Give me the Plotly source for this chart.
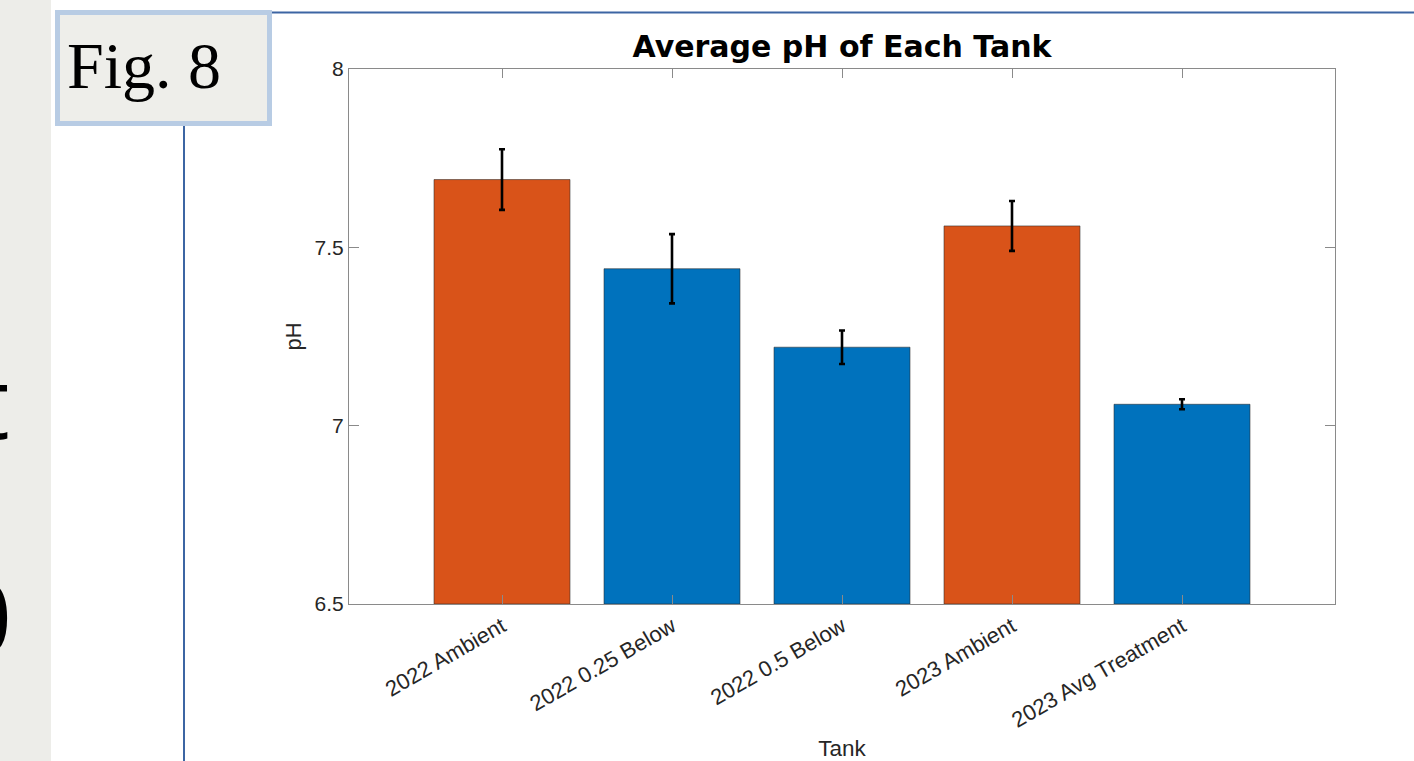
import plotly.graph_objects as go

# Tank means and spread (pH)
tanks = ["2022 Ambient", "2022 0.25 Below", "2022 0.5 Below", "2023 Ambient", "2023 Avg Treatment"]
mean_ph = [7.69, 7.44, 7.22, 7.56, 7.06]
err_ph = [0.085, 0.097, 0.047, 0.07, 0.014]
is_ambient = [True, False, False, True, False]

y_ticks = [6.5, 7, 7.5, 8]
y_tick_text = ["6.5", "7", "7.5", "8"]

ORANGE = "#D95319"
BLUE = "#0072BD"
SLIDE_BLUE = "#3C65A3"

W, H = 1414, 761
PLOT_L, PLOT_R, PLOT_T, PLOT_B = 349, 1335, 69, 604


def fx(x):
    return (x - PLOT_L) / (PLOT_R - PLOT_L)


def fy(y):
    return (PLOT_B - y) / (PLOT_B - PLOT_T)


positions = list(range(1, len(tanks) + 1))
colors = [ORANGE if a else BLUE for a in is_ambient]

fig = go.Figure()
fig.add_trace(go.Bar(
    x=positions,
    y=[m - 6.5 for m in mean_ph],
    base=6.5,
    width=0.8,
    marker=dict(color=colors, line=dict(color="rgba(40,40,40,0.55)", width=1)),
    error_y=dict(type="data", array=err_ph, color="black", thickness=2.6, width=3),
    hovertext=[f"{t}: {m}" for t, m in zip(tanks, mean_ph)],
    showlegend=False,
))

SANS = "Liberation Sans, Arial, sans-serif"
ink = "#262626"

fig.update_xaxes(
    range=[0.1, 5.9],
    tickvals=positions,
    ticktext=tanks,
    tickangle=-30,
    ticks="inside",
    ticklen=9,
    tickcolor="#8a8a8a",
    showline=True,
    linecolor="#8a8a8a",
    linewidth=1,
    mirror="ticks",
    showgrid=False,
    zeroline=False,
    tickfont=dict(family=SANS, size=22, color=ink),
    title=dict(text="Tank", font=dict(family=SANS, size=22.5, color=ink), standoff=8),
)
fig.update_yaxes(
    range=[6.5, 8],
    tickvals=y_ticks,
    ticktext=y_tick_text,
    ticks="inside",
    ticklen=10,
    tickcolor="#8a8a8a",
    showline=True,
    linecolor="#8a8a8a",
    linewidth=1,
    mirror="ticks",
    showgrid=False,
    zeroline=False,
    tickfont=dict(family=SANS, size=21, color=ink),
    title=dict(text="pH", font=dict(family=SANS, size=22, color=ink), standoff=6),
)

shapes = [
    # grey side panel
    dict(type="rect", xref="paper", yref="paper", x0=fx(0), x1=fx(51), y0=fy(H), y1=fy(0),
         fillcolor="#EDEDE9", line=dict(width=0), layer="below"),
    # slide rules
    dict(type="line", xref="paper", yref="paper", x0=fx(184), x1=fx(184), y0=fy(126), y1=fy(H),
         line=dict(color=SLIDE_BLUE, width=2)),
    dict(type="line", xref="paper", yref="paper", x0=fx(272), x1=fx(W), y0=fy(12.5), y1=fy(12.5),
         line=dict(color=SLIDE_BLUE, width=2)),
    # figure label box
    dict(type="rect", xref="paper", yref="paper", x0=fx(57.5), x1=fx(269.5), y0=fy(123.5), y1=fy(12.5),
         fillcolor="#EEEEEA", line=dict(color="#B8CCE4", width=5)),
]

annotations = [
    dict(text="Fig. 8", xref="paper", yref="paper", x=fx(144), y=fy(66), xanchor="center", yanchor="middle",
         showarrow=False, font=dict(family="Liberation Serif, Times New Roman, serif", size=66, color="black")),
    dict(text="t", xref="paper", yref="paper", x=fx(12), y=fy(400), xanchor="right", yanchor="middle",
         showarrow=False, font=dict(family="Open Sans, sans-serif", size=100, color="black")),
    dict(text="0", xref="paper", yref="paper", x=fx(14), y=fy(615), xanchor="right", yanchor="middle",
         showarrow=False, font=dict(family="Open Sans, sans-serif", size=100, color="black")),
]

fig.update_layout(
    width=W,
    height=H,
    margin=dict(l=PLOT_L, r=W - PLOT_R, t=PLOT_T, b=H - PLOT_B, autoexpand=False),
    paper_bgcolor="white",
    plot_bgcolor="white",
    title=dict(
        text="<b>Average pH of Each Tank</b>",
        x=0.5, xref="paper", xanchor="center",
        y=1 - 46 / H, yref="container", yanchor="middle",
        font=dict(family="DejaVu Sans, sans-serif", size=30, color="black"),
    ),
    shapes=shapes,
    annotations=annotations,
    bargap=0.2,
)

fig.write_html("out.html")
